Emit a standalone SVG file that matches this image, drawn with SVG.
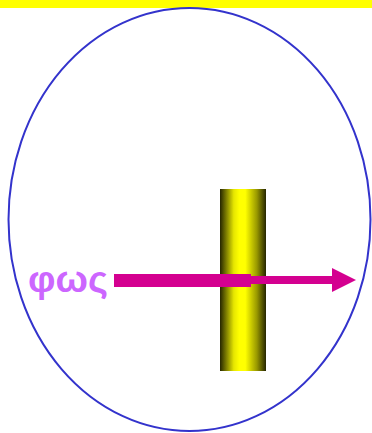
<svg xmlns="http://www.w3.org/2000/svg" width="372" height="433" viewBox="0 0 372 433">
<defs>
<linearGradient id="cyl" x1="0" y1="0" x2="1" y2="0">
<stop offset="0" stop-color="#262600"/>
<stop offset="0.3" stop-color="#e6e600"/>
<stop offset="0.42" stop-color="#ffff00"/>
<stop offset="0.55" stop-color="#ffff00"/>
<stop offset="0.8" stop-color="#999900"/>
<stop offset="1" stop-color="#262600"/>
</linearGradient>
<style>
.lbl{font-family:"Liberation Sans",Arial,sans-serif;font-weight:bold;fill:#cc66ff}
.ray{fill:#d40090}
</style>
</defs>
<rect x="0" y="0" width="372" height="8" fill="#ffff00"/>
<g id="ellipse">
<ellipse cx="189.5" cy="219.5" rx="181" ry="211.5" fill="none" stroke="#3333cc" stroke-width="2"/>
</g>
<g id="cylinder">
<rect x="220" y="189" width="46" height="182" fill="url(#cyl)"/>
</g>
<g id="label">
<text class="lbl" x="28" y="292" font-size="36" textLength="80" lengthAdjust="spacingAndGlyphs">φως</text>
</g>
<g id="connectors">
<rect class="ray" x="114" y="274" width="137" height="13"/>
<rect class="ray" x="250" y="276" width="84" height="8"/>
<polygon class="ray" points="332,268 356,280 332,292"/>
</g>
</svg>
